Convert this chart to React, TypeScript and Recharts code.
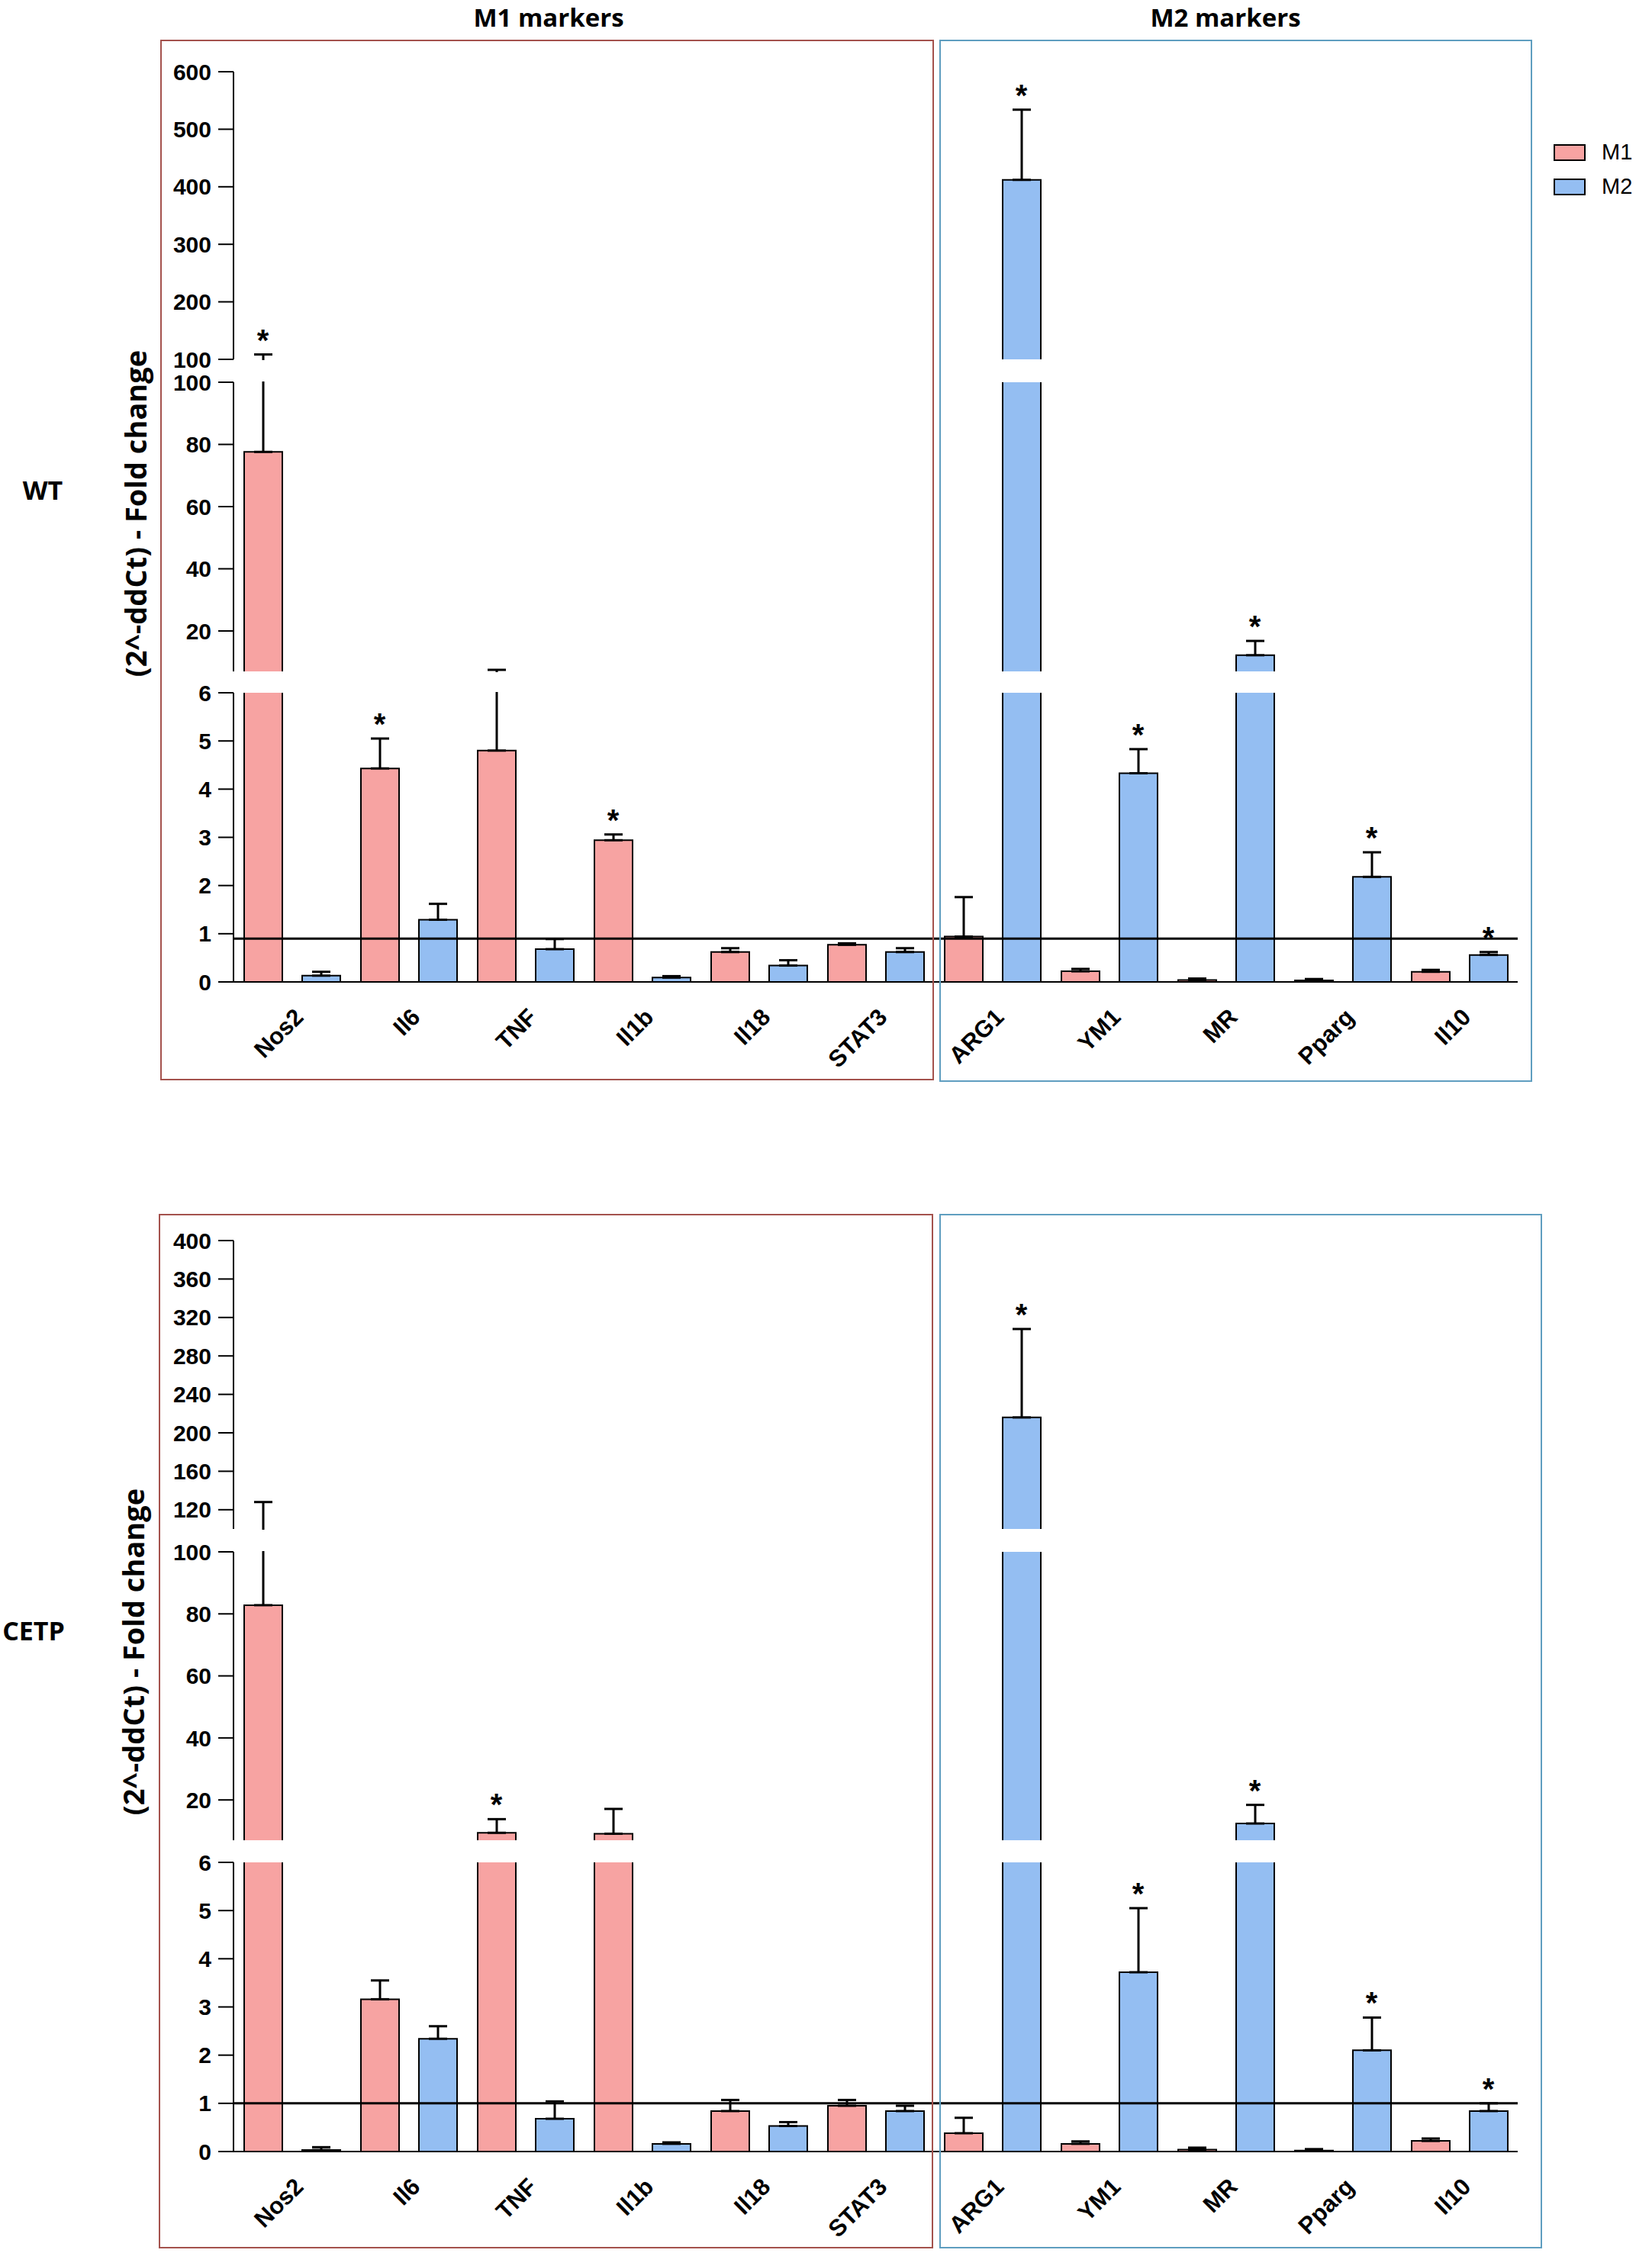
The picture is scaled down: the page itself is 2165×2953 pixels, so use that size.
import React from 'react';
import { ComposedChart, Bar, ErrorBar, Scatter, XAxis, YAxis, ReferenceLine, Legend } from 'recharts';

const FONT = "'Liberation Sans', Arial, Helvetica, sans-serif";
const TITLE_FONT = "'Open Sans', 'Liberation Sans', sans-serif";

// categories shared by both panels
const categories = ['Nos2', 'Il6', 'TNF', 'Il1b', 'Il18', 'STAT3', 'ARG1', 'YM1', 'MR', 'Pparg', 'Il10'];

// WT
const wtM1 = [77.6, 4.43, 4.8, 2.94, 0.62, 0.77, 0.94, 0.22, 0.04, 0.03, 0.21];
const wtM1Err = [30.9, 0.62, 2.7, 0.12, 0.08, 0.03, 0.82, 0.05, 0.03, 0.03, 0.04];
const wtM1Sig = [1, 1, 0, 1, 0, 0, 0, 0, 0, 0, 0];
const wtM2 = [0.13, 1.29, 0.68, 0.09, 0.34, 0.62, 412, 4.33, 12.2, 2.18, 0.56];
const wtM2Err = [0.08, 0.33, 0.21, 0.03, 0.11, 0.08, 122, 0.5, 4.6, 0.51, 0.06];
const wtM2Sig = [0, 0, 0, 0, 0, 0, 1, 1, 1, 1, 1];

// CETP
const cetpM1 = [82.8, 3.16, 9.4, 9.1, 0.84, 0.95, 0.38, 0.16, 0.04, 0.02, 0.22];
const cetpM1Err = [45.2, 0.39, 4.4, 8.0, 0.23, 0.12, 0.32, 0.05, 0.04, 0.03, 0.05];
const cetpM1Sig = [0, 0, 1, 0, 0, 0, 0, 0, 0, 0, 0];
const cetpM2 = [0.03, 2.34, 0.68, 0.16, 0.53, 0.84, 216, 3.72, 12.4, 2.1, 0.84];
const cetpM2Err = [0.06, 0.26, 0.36, 0.03, 0.08, 0.11, 92, 1.33, 6.0, 0.68, 0.16];
const cetpM2Sig = [0, 0, 0, 0, 0, 0, 1, 1, 1, 1, 1];

// broken axis segments
const wtTopTicks = [100, 200, 300, 400, 500, 600];
const cetpTopTicks = [120, 160, 200, 240, 280, 320, 360, 400];
const midTicks = [20, 40, 60, 80, 100];
const lowTicks = [0, 1, 2, 3, 4, 5, 6];

const wtBaseline = 0.9;
const cetpBaseline = 1;

const M1_COLOR = '#f7a3a2';
const M2_COLOR = '#94bef2';

const CHART_LEFT = 210;
const YW = 96;
const CHART_W = 1955;
const MR = 176;
const BAR = 50;
const GAP = 26;
const MT = 16;

const buildRows = (m1: number[], m1e: number[], m1s: number[], m2: number[], m2e: number[], m2s: number[]) =>
  categories.map((cat, i) => ({
    cat,
    m1: m1[i],
    m2: m2[i],
    e1: [0, m1e[i]],
    e2: [0, m2e[i]],
    top1: m1[i] + m1e[i],
    top2: m2[i] + m2e[i],
    sig1: !!m1s[i],
    sig2: !!m2s[i],
  }));

// bar drawn open at the bottom so the axis breaks stay clean
const barShape = (lo: number, key: string) => (props: any) => {
  const { x, y, width, height, fill, payload } = props;
  if (!payload || payload[key] <= lo) return <g />;
  const top = Math.min(y, y + height);
  const bottom = Math.max(y, y + height);
  return (
    <g>
      <rect x={x} y={top} width={width} height={bottom - top} fill={fill} />
      <path d={`M${x},${bottom} V${top} H${x + width} V${bottom}`} fill="none" stroke="#000" strokeWidth={2} />
    </g>
  );
};

const starShape = (dx: number) => (props: any) => {
  const { cx, cy } = props;
  if (cx == null || cy == null || !isFinite(cx) || !isFinite(cy)) return <g />;
  return (
    <text x={cx + dx} y={cy - 5} textAnchor="middle" fontSize={40} fontWeight="bold" fontFamily={FONT} fill="#000">
      *
    </text>
  );
};

const XTick = (props: any) => {
  const { x, y, payload } = props;
  const tx = x + 17;
  const ty = y + 40;
  return (
    <text x={tx} y={ty} transform={`rotate(-45 ${tx} ${ty})`} textAnchor="end" fontSize={31} fontWeight="bold" fontFamily={FONT} fill="#000">
      {payload.value}
    </text>
  );
};

const LegendBox = (props: any) => {
  const items = (props.payload || []).filter((p: any) => p.type !== 'none');
  return (
    <div>
      {items.map((p: any) => (
        <div key={p.value} style={{ display: 'flex', alignItems: 'center', height: 45 }}>
          <span style={{ width: 42, height: 22, background: p.color, border: '2px solid #000', boxSizing: 'border-box' }} />
          <span style={{ marginLeft: 21, fontFamily: FONT, fontSize: 29, color: '#000' }}>{p.value}</span>
        </div>
      ))}
    </div>
  );
};

interface SegProps {
  rows: any[];
  top: number;
  plotH: number;
  lo: number;
  hi: number;
  ticks: number[];
  bottom?: boolean;
  refY?: number;
  legend?: boolean;
}

const Segment: React.FC<SegProps> = ({ rows, top, plotH, lo, hi, ticks, bottom, refY, legend }) => {
  const MB = bottom ? 0 : 16;
  const XH = bottom ? 150 : 0;
  const data = rows.map(r => ({
    ...r,
    s1: r.sig1 && r.top1 >= lo && r.top1 <= hi ? r.top1 : undefined,
    s2: r.sig2 && r.top2 >= lo && r.top2 <= hi ? r.top2 : undefined,
  }));
  return (
    <div style={{ position: 'absolute', left: CHART_LEFT, top: top - MT }}>
      <ComposedChart
        width={CHART_W}
        height={MT + plotH + MB + XH}
        data={data}
        margin={{ top: MT, right: MR, bottom: MB, left: 0 }}
        barGap={GAP}
      >
        {bottom ? (
          <XAxis
            dataKey="cat"
            height={XH}
            interval={0}
            axisLine={{ stroke: '#000', strokeWidth: 2 }}
            tickLine={false}
            tick={XTick}
          />
        ) : (
          <XAxis dataKey="cat" hide />
        )}
        <YAxis
          type="number"
          domain={[lo, hi]}
          ticks={ticks}
          interval={0}
          allowDataOverflow
          width={YW}
          tickSize={20}
          tickMargin={9}
          axisLine={{ stroke: '#000', strokeWidth: 2 }}
          tickLine={{ stroke: '#000', strokeWidth: 2 }}
          tick={{ fill: '#000', fontSize: 30, fontWeight: 'bold', fontFamily: FONT }}
        />
        <Bar dataKey="m1" name="M1" fill={M1_COLOR} barSize={BAR} shape={barShape(lo, 'm1')} isAnimationActive={false}>
          <ErrorBar dataKey="e1" width={12} strokeWidth={3} stroke="#000" isAnimationActive={false} />
        </Bar>
        <Bar dataKey="m2" name="M2" fill={M2_COLOR} barSize={BAR} shape={barShape(lo, 'm2')} isAnimationActive={false}>
          <ErrorBar dataKey="e2" width={12} strokeWidth={3} stroke="#000" isAnimationActive={false} />
        </Bar>
        {refY != null && <ReferenceLine y={refY} stroke="#000" strokeWidth={3} />}
        <Scatter dataKey="s1" legendType="none" shape={starShape(-(BAR + GAP) / 2)} isAnimationActive={false} />
        <Scatter dataKey="s2" legendType="none" shape={starShape((BAR + GAP) / 2)} isAnimationActive={false} />
        {legend && (
          <Legend
            layout="vertical"
            align="center"
            verticalAlign="middle"
            wrapperStyle={{ left: 2036 - CHART_LEFT, top: 99, width: 120 }}
            content={LegendBox}
          />
        )}
      </ComposedChart>
    </div>
  );
};

const Mask: React.FC<{ y1: number; y2: number }> = ({ y1, y2 }) => (
  <div style={{ position: 'absolute', left: 308, top: y1, width: 1700, height: y2 - y1, background: '#fff' }} />
);

const Box: React.FC<{ l: number; t: number; r: number; b: number; color: string }> = ({ l, t, r, b, color }) => (
  <div style={{ position: 'absolute', left: l, top: t, width: r - l, height: b - t, border: `2px solid ${color}`, boxSizing: 'border-box' }} />
);

const textStyle = (x: number, y: number, size: number, rotate = 0): React.CSSProperties => ({
  position: 'absolute',
  left: x,
  top: y,
  transform: `translate(-50%, -50%) rotate(${rotate}deg)`,
  fontFamily: TITLE_FONT,
  fontWeight: 'bold',
  fontSize: size,
  whiteSpace: 'nowrap',
  color: '#000',
  lineHeight: 'normal',
});

const App: React.FC = () => {
  const wtRows = buildRows(wtM1, wtM1Err, wtM1Sig, wtM2, wtM2Err, wtM2Sig);
  const cetpRows = buildRows(cetpM1, cetpM1Err, cetpM1Sig, cetpM2, cetpM2Err, cetpM2Sig);

  return (
    <div style={{ position: 'absolute', left: 0, top: 0, width: 2165, height: 2953, background: '#fff', overflow: 'hidden' }}>
      {/* WT */}
      <Segment rows={wtRows} top={94} plotH={377} lo={100} hi={600} ticks={wtTopTicks} legend />
      <Segment rows={wtRows} top={501} plotH={379} lo={7} hi={100} ticks={midTicks} />
      <Segment rows={wtRows} top={908} plotH={379} lo={0} hi={6} ticks={lowTicks} bottom refY={wtBaseline} />
      <Mask y1={472} y2={500} />
      <Mask y1={881} y2={907} />

      {/* CETP */}
      <Segment rows={cetpRows} top={1626} plotH={378} lo={100} hi={400} ticks={cetpTopTicks} />
      <Segment rows={cetpRows} top={2034} plotH={378} lo={7} hi={100} ticks={midTicks} />
      <Segment rows={cetpRows} top={2441} plotH={379} lo={0} hi={6} ticks={lowTicks} bottom refY={cetpBaseline} />
      <Mask y1={2005} y2={2033} />
      <Mask y1={2413} y2={2440} />

      <Box l={210} t={52} r={1224} b={1416} color="#a4524d" />
      <Box l={1231} t={52} r={2008} b={1418} color="#5f9ec0" />
      <Box l={208} t={1591} r={1223} b={2947} color="#a4524d" />
      <Box l={1231} t={1591} r={2021} b={2947} color="#5f9ec0" />

      <div style={textStyle(719, 22, 33)}>M1 markers</div>
      <div style={textStyle(1606, 22, 33)}>M2 markers</div>
      <div style={textStyle(56, 642, 34)}>WT</div>
      <div style={textStyle(44, 2137, 34)}>CETP</div>
      <div style={textStyle(177, 673, 38, -90)}>(2^-ddCt) - Fold change</div>
      <div style={textStyle(174, 2165, 38, -90)}>(2^-ddCt) - Fold change</div>
    </div>
  );
};

export default App;
